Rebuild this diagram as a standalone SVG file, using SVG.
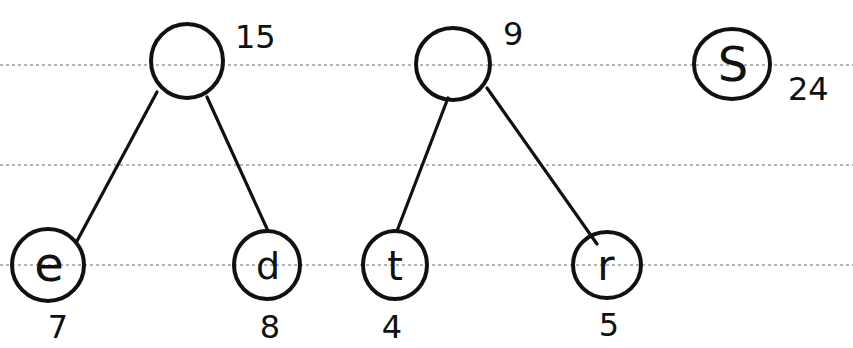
<svg xmlns="http://www.w3.org/2000/svg" width="853" height="348" viewBox="0 0 853 348">
<style>
.rule{stroke:#b4b4b4;stroke-width:2;stroke-dasharray:3 3;fill:none}
.node{fill:none;stroke:#111;stroke-width:4}
.edge{stroke:#111;stroke-width:3.2;fill:none;stroke-linecap:round}
.lbl{font-family:"DejaVu Sans",sans-serif;fill:#111;text-anchor:middle}
.w{font-family:"DejaVu Sans",sans-serif;fill:#111;font-size:32px}
</style>
<rect width="853" height="348" fill="#fff"/>
<g id="rules">
<line class="rule" x1="0" y1="65" x2="853" y2="65"/>
<line class="rule" x1="0" y1="165" x2="853" y2="165"/>
<line class="rule" x1="0" y1="265" x2="853" y2="265"/>
</g>
<g id="connectors">
<line class="edge" x1="157" y1="92" x2="77" y2="241"/>
<line class="edge" x1="207" y1="97" x2="268" y2="231"/>
<line class="edge" x1="448" y1="98" x2="397" y2="231"/>
<line class="edge" x1="487" y1="88" x2="597" y2="244"/>
</g>
<g id="n15">
<ellipse class="node" cx="187" cy="61" rx="36" ry="37"/>
<text class="w" x="235" y="48">15</text>
</g>
<g id="n9">
<ellipse class="node" cx="453" cy="64" rx="37" ry="36"/>
<text class="w" x="503" y="45">9</text>
</g>
<g id="nS">
<ellipse class="node" cx="732" cy="64" rx="38" ry="35"/>
<text class="lbl" x="733" y="81" font-size="48">S</text>
<text class="w" x="788" y="100" font-size="34">24</text>
</g>
<g id="ne">
<ellipse class="node" cx="48" cy="265" rx="36" ry="36"/>
<text class="lbl" x="49" y="281" font-size="48">e</text>
<text class="lbl" x="58" y="338" font-size="32">7</text>
</g>
<g id="nd">
<ellipse class="node" cx="267" cy="265" rx="33" ry="34"/>
<text class="lbl" x="268" y="279" font-size="38">d</text>
<text class="lbl" x="270" y="338" font-size="32">8</text>
</g>
<g id="nt">
<ellipse class="node" cx="395" cy="265" rx="32" ry="34"/>
<text class="lbl" x="395" y="280" font-size="40">t</text>
<text class="lbl" x="392" y="338" font-size="32">4</text>
</g>
<g id="nr">
<ellipse class="node" cx="607" cy="265" rx="34" ry="33"/>
<text class="lbl" x="606" y="280" font-size="42">r</text>
<text class="lbl" x="609" y="336" font-size="32">5</text>
</g>
</svg>
